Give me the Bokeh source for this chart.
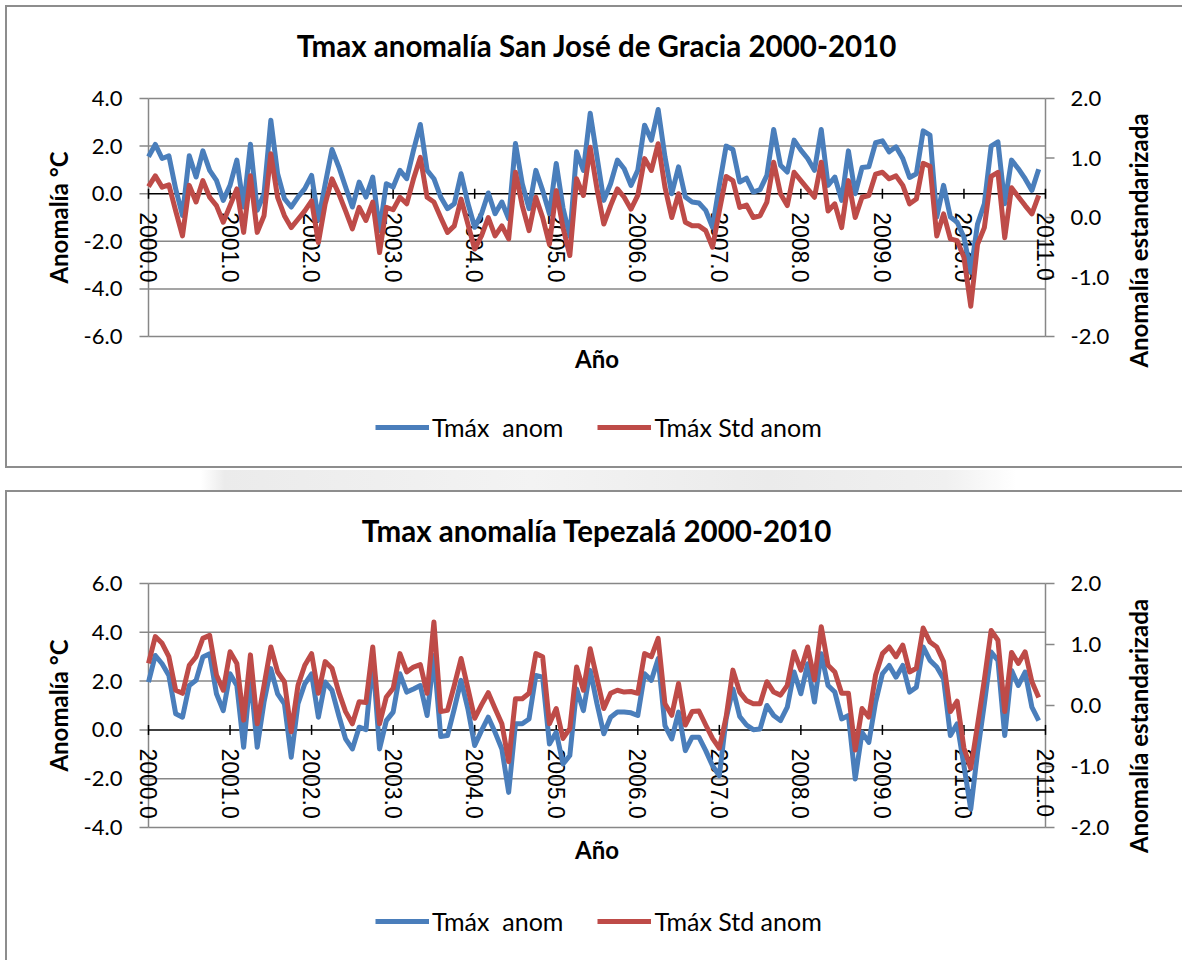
import math
from bokeh.plotting import figure
from bokeh.models import Range1d, Legend, LegendItem
from bokeh.core.properties import value
from bokeh.layouts import column
from bokeh.embed import file_html
from bokeh.resources import INLINE

# monthly time axis, Jan 2000 .. Dec 2010 (decimal years)
months = [2000 + m / 12 for m in range(132)]

# San José de Gracia: Tmax anomaly (°C) and standardized anomaly
sjg_anom = [
    1.55, 2.07, 1.48, 1.59, 0.20, -0.91, 1.59, 0.70, 1.80, 0.98, 0.56, -0.28,
    0.35, 1.41, -0.56, 2.08, -0.70, 0.00, 3.09, 0.84, -0.21, -0.56, -0.14, 0.21,
    0.77, -1.10, 0.40, 1.86, 1.13, 0.28, -0.56, 0.49, -0.14, 0.70, -1.55, 0.42,
    0.28, 0.98, 0.63, 1.83, 2.91, 0.98, 0.63, -0.14, -0.63, -0.42, 0.84, -0.40,
    -1.41, -0.85, 0.03, -0.84, -0.35, -1.05, 2.11, 0.42, -0.63, 0.98, 0.14, -0.84,
    1.27, -0.60, -1.80, 1.76, 0.98, 3.38, 1.55, -0.28, 0.42, 1.41, 1.05, 0.35,
    0.98, 2.88, 2.25, 3.54, 1.55, 0.00, 1.13, -0.14, -0.35, -0.39, -0.70, -1.41,
    0.35, 2.00, 1.86, 0.49, 0.65, 0.07, 0.17, 0.77, 2.70, 1.20, 0.91, 2.25,
    1.83, 1.48, 0.98, 2.70, 0.35, 0.70, -0.28, 1.80, 0.00, 1.10, 1.13, 2.14,
    2.22, 1.76, 1.97, 1.48, 0.68, 0.84, 2.64, 2.46, -0.98, 0.35, -0.98, -1.20,
    -1.83, -3.30, -1.27, -0.42, 2.00, 2.18, -0.42, 1.41, 1.05, 0.63, 0.14, 1.03,
]
sjg_std = [
    0.52, 0.70, 0.51, 0.55, 0.11, -0.31, 0.54, 0.26, 0.62, 0.34, 0.20, -0.08,
    0.20, 0.48, -0.25, 0.70, -0.25, 0.03, 1.07, 0.34, 0.03, -0.17, -0.03, 0.11,
    0.28, -0.42, 0.23, 0.65, 0.40, 0.11, -0.19, 0.17, -0.05, 0.26, -0.59, 0.17,
    0.13, 0.34, 0.23, 0.65, 1.01, 0.34, 0.26, 0.00, -0.25, -0.14, 0.31, -0.11,
    -0.53, -0.31, 0.00, -0.31, -0.14, -0.36, 0.76, 0.20, -0.22, 0.34, 0.00, -0.45,
    0.45, -0.17, -0.64, 0.65, 0.37, 1.18, 0.48, -0.11, 0.20, 0.48, 0.34, 0.14,
    0.37, 0.99, 0.79, 1.24, 0.51, 0.00, 0.40, -0.08, -0.14, -0.14, -0.22, -0.50,
    0.11, 0.69, 0.62, 0.17, 0.21, 0.00, 0.03, 0.26, 0.93, 0.40, 0.20, 0.76,
    0.62, 0.48, 0.34, 0.93, 0.11, 0.23, -0.17, 0.62, 0.00, 0.34, 0.37, 0.73,
    0.76, 0.65, 0.70, 0.54, 0.23, 0.31, 0.91, 0.86, -0.31, 0.06, -0.36, -0.39,
    -0.67, -1.49, -0.45, -0.17, 0.69, 0.76, -0.34, 0.50, 0.35, 0.20, 0.06, 0.37,
]

# Tepezalá: Tmax anomaly (°C) and standardized anomaly
tep_anom = [
    1.96, 3.05, 2.71, 2.23, 0.66, 0.52, 1.82, 2.03, 2.99, 3.12, 1.48, 0.79,
    2.30, 1.82, -0.71, 2.23, -0.71, 1.14, 2.51, 1.48, 1.07, -1.12, 1.07, 1.89,
    2.30, 0.52, 1.96, 1.62, 0.59, -0.37, -0.78, 0.11, 0.01, 2.92, -0.78, 0.38,
    0.73, 2.30, 1.55, 1.68, 1.82, 0.59, 3.05, -0.27, -0.23, 0.86, 2.03, 0.86,
    -0.64, -0.03, 0.52, -0.10, -0.78, -2.56, 0.25, 0.25, 0.45, 2.23, 2.16, -0.58,
    -0.10, -1.40, -1.05, 1.68, 0.79, 2.44, 1.07, -0.16, 0.52, 0.73, 0.73, 0.70,
    0.59, 2.30, 2.03, 2.92, 0.18, -0.37, 0.73, -0.85, -0.30, -0.30, -0.85, -1.47,
    -1.88, 0.45, 1.68, 0.55, 0.20, 0.01, 0.04, 1.00, 0.59, 0.38, 0.93, 2.37,
    1.48, 2.71, 1.14, 3.12, 1.82, 1.55, 0.45, 0.59, -2.01, -0.10, -0.51, 1.14,
    2.30, 2.64, 2.16, 2.64, 1.55, 1.75, 3.40, 2.85, 2.58, 2.10, -0.23, 0.25,
    -1.47, -3.25, -0.92, 1.07, 3.19, 2.85, -0.23, 2.44, 1.82, 2.37, 0.93, 0.38,
]
tep_std = [
    0.69, 1.13, 1.02, 0.80, 0.25, 0.20, 0.66, 0.80, 1.10, 1.15, 0.50, 0.25,
    0.88, 0.69, -0.24, 0.83, -0.30, 0.33, 0.96, 0.55, 0.39, -0.43, 0.33, 0.66,
    0.85, 0.20, 0.72, 0.61, 0.22, -0.10, -0.30, 0.06, 0.05, 0.96, -0.30, 0.14,
    0.28, 0.85, 0.55, 0.63, 0.67, 0.20, 1.37, -0.10, -0.08, 0.33, 0.77, 0.28,
    -0.21, 0.01, 0.21, -0.05, -0.30, -0.92, 0.11, 0.11, 0.20, 0.85, 0.80, -0.30,
    -0.05, -0.54, -0.38, 0.63, 0.25, 0.93, 0.44, -0.05, 0.20, 0.25, 0.22, 0.23,
    0.20, 0.85, 0.80, 1.10, 0.03, -0.16, 0.36, -0.32, -0.10, -0.09, -0.32, -0.54,
    -0.70, -0.19, 0.58, 0.22, 0.08, 0.03, 0.03, 0.39, 0.22, 0.17, 0.33, 0.88,
    0.58, 0.96, 0.42, 1.29, 0.66, 0.55, 0.20, 0.20, -0.73, -0.05, -0.19, 0.50,
    0.85, 0.96, 0.80, 0.99, 0.55, 0.61, 1.27, 1.04, 0.96, 0.72, -0.10, 0.07,
    -0.70, -1.03, -0.32, 0.42, 1.23, 1.07, -0.10, 0.87, 0.69, 0.88, 0.39, 0.13,
]

year_ticks = list(range(2000, 2012))
year_labels = [f"{y:.1f}" for y in year_ticks]
std_lo, std_hi = -2, 2
std_ticks = [-2, -1, 0, 1, 2]

BLUE = "#4A7EBB"
RED = "#BE4B48"
GRID = "#878787"
EDGE = "#8d8d8d"
FONT = "Lato"
W = 1182
PLOT_L, PLOT_R = 148, 1045          # canvas columns of 2000.0 and 2011.0
LINE_W = 5


def line_bg(x, y, w, h, color=EDGE):
    return f"linear-gradient({color},{color}) {x}px {y}px / {w}px {h}px no-repeat"


def scale_for(size, a, b, lo, hi):
    """Range whose [lo, hi] part spans canvas pixels a..b (b > a)."""
    k = (b - a) / (hi - lo)
    return k, lo - a / k, hi + (size - b) / k


def make_chart(title_text, anom, std, lo, hi, height, top, bottom,
               title_mid, xlabel_mid, ytitle_mid, rtitle_mid, legend_bottom, background):
    kx, x_start, x_end = scale_for(W, PLOT_L, PLOT_R, year_ticks[0], year_ticks[-1])
    # vertical: canvas row 0 is the top, so flip the offsets
    k, y_start, y_end = scale_for(height, height - bottom, height - top, lo, hi)
    ks, s_start, s_end = scale_for(height, height - bottom, height - top, std_lo, std_hi)

    def col(px):
        return x_start + px / kx

    def row(px):
        return y_end - px / k

    p = figure(width=W, height=height, output_backend="svg", toolbar_location=None,
               x_range=Range1d(x_start, x_end), y_range=Range1d(y_start, y_end),
               x_axis_location=None, y_axis_location=None,
               min_border=0, min_border_left=0, min_border_right=0,
               min_border_top=0, min_border_bottom=0,
               background_fill_color=None, border_fill_color=None,
               outline_line_color=None, styles={"background": background})
    p.grid.visible = False
    p.extra_y_ranges = {"std": Range1d(s_start, s_end)}

    x0, x1 = year_ticks[0], year_ticks[-1]
    left_ticks = list(range(lo, hi + 1, 2))
    grid_levels = [t for t in left_ticks if t != 0]
    n = len(grid_levels)

    # plot-area gridlines and side rules
    p.segment(x0=[x0] * n, y0=grid_levels, x1=[x1] * n, y1=grid_levels,
              line_color=GRID, line_width=1.5)
    p.segment(x0=[x0, x1], y0=[lo, lo], x1=[x0, x1], y1=[hi, hi],
              line_color=GRID, line_width=1.5)

    # left scale: outward ticks and labels
    m = len(left_ticks)
    p.segment(x0=[col(PLOT_L - 9)] * m, y0=left_ticks, x1=[x0] * m, y1=left_ticks,
              line_color=GRID, line_width=1.5)
    p.text(x=[col(PLOT_L - 26)] * m, y=left_ticks, text=[f"{t:.1f}" for t in left_ticks],
           text_align="right", text_baseline="middle", text_font=value(FONT),
           text_font_size=value("22px"), text_color="black")

    # right scale (standardized): outward ticks and labels
    q = len(std_ticks)
    p.segment(x0=[x1] * q, y0=std_ticks, x1=[col(PLOT_R + 9)] * q, y1=std_ticks,
              line_color=GRID, line_width=1.5, y_range_name="std")
    p.text(x=[col(PLOT_R + 25)] * q, y=std_ticks, text=[f"{t:.1f}" for t in std_ticks],
           text_align="left", text_baseline="middle", text_font=value(FONT),
           text_font_size=value("22px"), text_color="black", y_range_name="std")

    # axis titles, reading upwards
    p.text(x=[col(57.5)], y=[row(ytitle_mid)], text=["Anomalía °C"], angle=math.pi / 2,
           text_align="center", text_baseline="middle", text_font=value(FONT),
           text_font_style="bold", text_font_size=value("24px"), text_color="black")
    p.text(x=[col(1137.5)], y=[row(rtitle_mid)], text=["Anomalía estandarizada"],
           angle=math.pi / 2, text_align="center", text_baseline="middle",
           text_font=value(FONT), text_font_style="bold", text_font_size=value("24px"),
           text_color="black")

    # chart title and horizontal-axis title
    p.text(x=[(x0 + x1) / 2], y=[row(title_mid)], text=[title_text], text_align="center",
           text_baseline="middle", text_font=value(FONT), text_font_style="bold",
           text_font_size=value("29.5px"), text_color="black")
    p.text(x=[(x0 + x1) / 2], y=[row(xlabel_mid)], text=["Año"], text_align="center",
           text_baseline="middle", text_font=value(FONT), text_font_style="bold",
           text_font_size=value("24px"), text_color="black")

    # horizontal axis at zero: rule, crossing ticks, downward-reading labels
    yt = len(year_ticks)
    p.segment(x0=[x0], y0=[0], x1=[x1], y1=[0], line_color="black", line_width=1.5)
    p.segment(x0=year_ticks, y0=[-5 / k] * yt, x1=year_ticks, y1=[5 / k] * yt,
              line_color="black", line_width=1.5)
    p.text(x=year_ticks, y=[-18.5 / k] * yt, text=year_labels,
           angle=-math.pi / 2, text_align="left", text_baseline="middle",
           text_font=value("Liberation Sans"), text_font_size=value("23px"),
           text_color="black")

    r1 = p.line(months, anom, color=BLUE, line_width=LINE_W, line_join="round")
    r2 = p.line(months, std, color=RED, line_width=LINE_W, line_join="round",
                y_range_name="std")

    legend = Legend(items=[LegendItem(label="Tmáx  anom", renderers=[r1]),
                           LegendItem(label="Tmáx Std anom", renderers=[r2])],
                    orientation="horizontal", location=(375, legend_bottom),
                    border_line_color=None, background_fill_alpha=0,
                    label_text_font=FONT, label_text_font_size="25px",
                    label_text_color="black", glyph_width=54, glyph_height=24,
                    label_height=24, label_standoff=3, spacing=34,
                    margin=0, padding=0)
    p.add_layout(legend)
    return p


band = ("linear-gradient(to right, #ffffff 0%, #ffffff 17%, #ebebeb 19%, #f3f3f3 45%, "
        "#ebebeb 65%, #f0f0f0 80%, #ffffff 86%, #ffffff 100%) 0px 470px / 1182px 20px no-repeat")
bg1 = ", ".join([line_bg(5, 5, 1177, 2), line_bg(5, 5, 2, 463),
                 line_bg(5, 466, 1177, 2), band, "#ffffff"])
bg2 = ", ".join([line_bg(5, 0, 1177, 2), line_bg(5, 0, 2, 470), "#ffffff"])

p1 = make_chart("Tmax anomalía San José de Gracia 2000-2010", sjg_anom, sjg_std,
                -6, 4, 490, 98, 336, 45, 358, 217, 240, 48, bg1)
p2 = make_chart("Tmax anomalía Tepezalá 2000-2010", tep_anom, tep_std,
                -4, 6, 470, 93, 337, 40, 359, 215, 235.5, 24, bg2)

open("out.html", "w").write(file_html(column(p1, p2), INLINE))
